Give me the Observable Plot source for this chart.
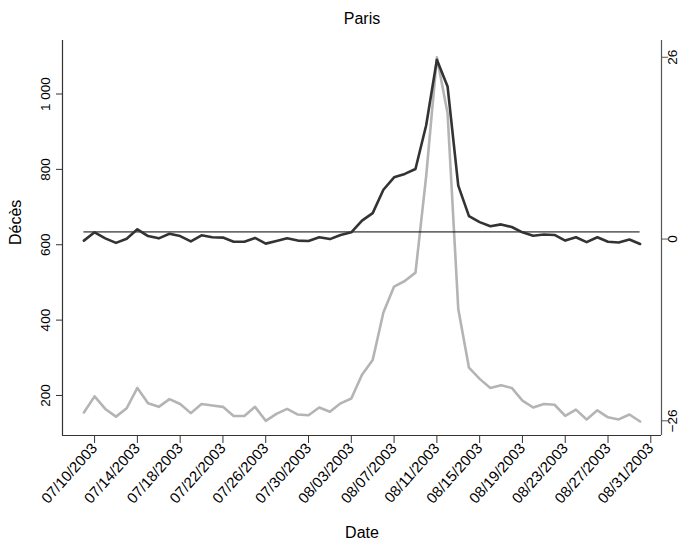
<!DOCTYPE html>
<html><head><meta charset="utf-8">
<script src="https://cdn.jsdelivr.net/npm/d3@7"></script>
<script src="https://cdn.jsdelivr.net/npm/@observablehq/plot@0.6"></script>
<style>body{margin:0;background:#fff;font-family:"Liberation Sans",Arial,sans-serif}</style>
</head><body><div id="chart"></div>
<script>
const title = "Paris";
const yLabel = "Décès";
const xLabel = "Date";
const startDate = "2003-07-09";
const deaths = [611,633,617,605,616,641,623,617,629,623,609,625,620,619,608,608,618,603,610,617,611,610,620,615,626,633,664,684,746,779,788,801,917,1091,1020,757,676,660,649,654,647,633,624,627,626,611,620,607,620,608,606,614,602];
const anomaly = [-24.8,-22.5,-24.3,-25.4,-24.2,-21.3,-23.5,-24.0,-22.9,-23.6,-24.9,-23.6,-23.8,-24.0,-25.3,-25.3,-24.0,-26.0,-25.0,-24.3,-25.1,-25.2,-24.1,-24.7,-23.5,-22.8,-19.4,-17.3,-10.5,-6.8,-6.0,-4.8,9,26,18,-10.0,-18.4,-20.0,-21.3,-20.9,-21.3,-23.1,-24.1,-23.6,-23.7,-25.3,-24.4,-25.8,-24.5,-25.5,-25.8,-25.1,-26.1];
const baseline = 634;
const xTicks = ["2003-07-10","2003-07-14","2003-07-18","2003-07-22","2003-07-26","2003-07-30","2003-08-03","2003-08-07","2003-08-11","2003-08-15","2003-08-19","2003-08-23","2003-08-27","2003-08-31"];
const leftTicks = [200,400,600,800,1000];
const rightTicks = [-26,0,26];

const start = new Date(startDate);
const dates = d3.utcDay.range(start, d3.utcDay.offset(start, deaths.length));
const data = dates.map((d,i)=>({date:d, deaths:deaths[i], anomaly:anomaly[i]}));
const leftDomain = [93.8,1142];
const rightDomain = [-28.1,28.4];
const r2l = d3.scaleLinear(rightDomain, leftDomain);
const xDomain = [new Date("2003-07-07"), new Date("2003-09-01")];
const font = "'Liberation Sans', Arial, sans-serif";

const chart = Plot.plot({
  width: 684, height: 547,
  marginLeft: 62, marginRight: 23, marginTop: 40, marginBottom: 112,
  style: {fontFamily: font, fontSize: "13px", color: "#000", background: "#fff"},
  x: {type: "utc", domain: xDomain},
  y: {domain: leftDomain},
  marks: [
    Plot.ruleX([xDomain[0]], {stroke: "#333", strokeWidth: 1.2}),
    Plot.ruleX([xDomain[1]], {stroke: "#555", strokeWidth: 1.2}),
    Plot.ruleY([leftDomain[0]], {stroke: "#333", strokeWidth: 1.2}),
    Plot.axisX({ticks: xTicks.map(s => new Date(s)), tickFormat: d3.utcFormat("%m/%d/%Y"), tickRotate: -48, tickSize: 8, tickPadding: 2, fontSize: 15, label: null, stroke: "#333"}),
    Plot.axisY({ticks: leftTicks, tickFormat: d => d3.format(",")(d).replace(",", " "), tickRotate: -90, tickSize: 6, tickPadding: 7, fontSize: 13.5, label: null, stroke: "#333"}),
    Plot.axisY({anchor: "right", ticks: rightTicks.map(r2l), tickFormat: d => String(Math.round(r2l.invert(d))).replace("-", "\u2212"), tickRotate: -90, tickSize: 6, tickPadding: 9, fontSize: 13.5, label: null, stroke: "#555"}),
    Plot.lineY(data, {x: "date", y: d => r2l(d.anomaly), stroke: "#b4b4b4", strokeWidth: 2.6}),
    Plot.ruleY([baseline], {x1: dates[0], x2: dates[dates.length-1], stroke: "#000", strokeWidth: 1}),
    Plot.lineY(data, {x: "date", y: "deaths", stroke: "#333", strokeWidth: 2.6}),
    Plot.text([title], {frameAnchor: "top", dy: -28, fontSize: 16}),
    Plot.text([xLabel], {frameAnchor: "bottom", dy: 102, fontSize: 16}),
    Plot.text([yLabel], {frameAnchor: "left", dx: -47, dy: 7, rotate: -90, fontSize: 16})
  ]
});
document.getElementById("chart").appendChild(chart);
</script></body></html>
